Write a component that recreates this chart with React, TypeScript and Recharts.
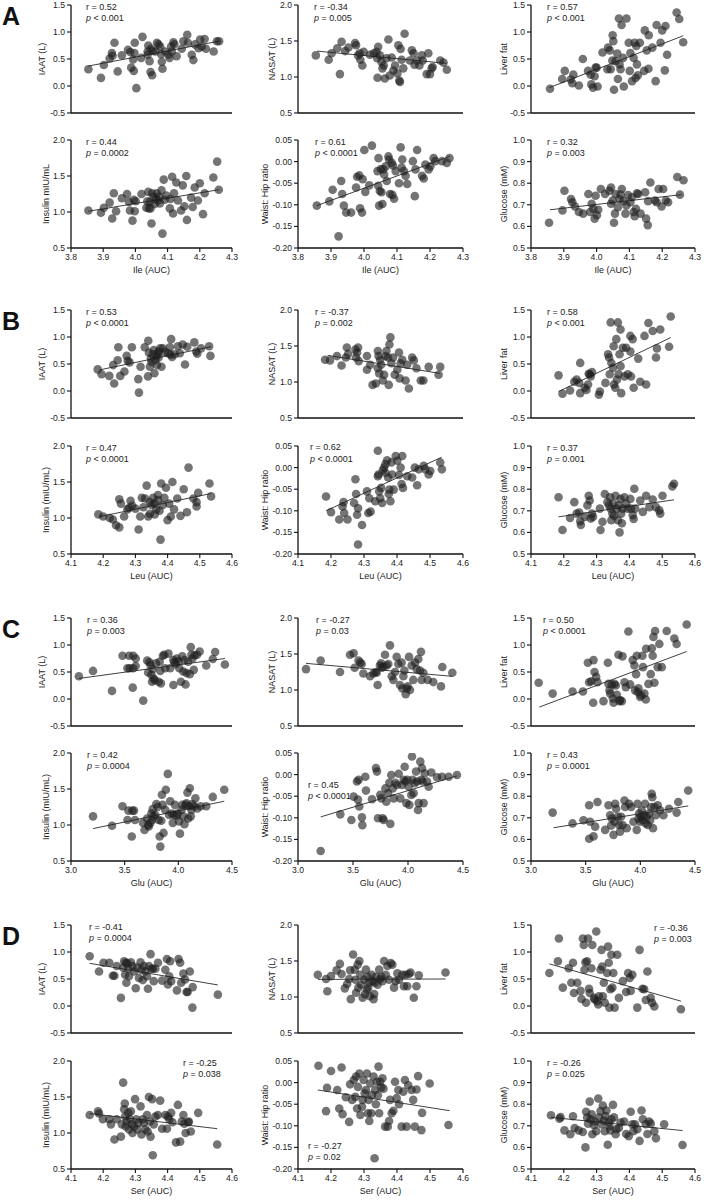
import React from 'react';
import { ScatterChart, Scatter, XAxis, YAxis, ReferenceLine } from 'recharts';

type P = [number, number];

// ---------- Panel A : Ile (AUC) ----------
const ileIaat: P[] = [[3.854,0.31],[3.893,0.15],[3.902,0.39],[3.935,0.80],[3.927,0.61],[3.929,0.56],[3.92,0.51],[3.945,0.27],[3.958,0.57],[3.977,0.67],[3.984,0.63],[3.987,0.34],[3.993,0.49],[3.997,0.61],[3.998,0.80],[3.995,0.28],[4.003,-0.04],[4.018,0.52],[4.022,0.91],[4.038,0.58],[4.040,0.75],[4.044,0.46],[4.047,0.26],[4.052,0.20],[4.048,0.69],[4.054,0.65],[4.062,0.64],[4.067,0.80],[4.072,0.77],[4.077,0.73],[4.080,0.59],[4.082,0.45],[4.084,0.32],[4.092,0.64],[4.103,0.58],[4.106,0.52],[4.111,0.73],[4.113,0.64],[4.118,0.81],[4.121,0.77],[4.128,0.55],[4.144,0.69],[4.149,0.83],[4.161,0.95],[4.163,0.80],[4.175,0.58],[4.180,0.48],[4.185,0.77],[4.196,0.70],[4.201,0.86],[4.206,0.73],[4.215,0.87],[4.219,0.69],[4.243,0.64],[4.253,0.83],[4.260,0.83],[4.038,0.64]];
const ileIaatFit: P[] = [[3.854,0.37],[4.26,0.83]];
const ileNasat: P[] = [[3.854,1.30],[3.893,1.24],[3.902,1.33],[3.919,1.40],[3.932,1.49],[3.927,1.04],[3.943,1.36],[3.953,1.41],[3.973,1.47],[3.976,1.44],[3.982,1.30],[3.987,1.33],[3.989,1.24],[3.995,1.16],[3.999,1.35],[4.018,1.31],[4.030,1.33],[4.038,1.35],[4.043,1.42],[4.041,0.99],[4.040,1.26],[4.048,1.30],[4.053,1.21],[4.056,1.12],[4.060,1.16],[4.063,0.98],[4.068,1.26],[4.074,1.52],[4.078,1.02],[4.084,1.27],[4.089,1.09],[4.094,1.16],[4.101,1.05],[4.104,1.44],[4.107,0.95],[4.109,0.93],[4.111,1.39],[4.114,1.24],[4.119,1.12],[4.123,1.60],[4.139,1.23],[4.145,1.37],[4.150,1.33],[4.153,1.17],[4.160,1.23],[4.168,1.16],[4.175,1.30],[4.178,1.23],[4.190,1.04],[4.195,1.33],[4.200,1.04],[4.205,1.12],[4.208,1.14],[4.231,1.23],[4.241,1.20],[4.251,1.10]];
const ileNasatFit: P[] = [[3.858,1.36],[4.25,1.19]];
const ileLiver: P[] = [[3.858,-0.05],[3.895,0.13],[3.903,0.28],[3.921,0.12],[3.929,0.21],[3.926,0.05],[3.946,0.01],[3.958,0.50],[3.974,0.28],[3.982,0.21],[3.984,0.03],[3.989,-0.03],[3.994,0.18],[3.997,0.34],[4.0,0.34],[4.003,-0.01],[4.018,0.62],[4.033,0.31],[4.035,0.71],[4.04,0.66],[4.043,0.31],[4.048,0.47],[4.049,0.94],[4.051,0.83],[4.053,-0.07],[4.058,0.46],[4.063,0.60],[4.065,0.13],[4.068,1.25],[4.07,0.40],[4.073,0.31],[4.076,1.13],[4.081,0.52],[4.083,-0.01],[4.091,1.25],[4.098,0.80],[4.101,0.28],[4.103,0.61],[4.108,0.09],[4.113,0.52],[4.116,0.80],[4.119,0.15],[4.121,0.74],[4.123,0.40],[4.126,0.20],[4.132,0.80],[4.145,0.28],[4.147,1.03],[4.153,0.66],[4.158,0.32],[4.159,0.94],[4.170,0.71],[4.180,0.09],[4.183,1.13],[4.195,0.80],[4.2,1.03],[4.21,1.11],[4.208,0.29],[4.215,0.58],[4.244,1.36],[4.252,1.24],[4.264,0.81]];
const ileLiverFit: P[] = [[3.856,-0.03],[4.264,0.93]];
const ileInsulin: P[] = [[3.854,1.02],[3.893,0.99],[3.902,1.06],[3.92,1.13],[3.928,0.91],[3.933,1.26],[3.94,1.01],[3.958,1.19],[3.974,1.25],[3.98,1.14],[3.983,1.02],[3.991,0.88],[3.995,1.17],[3.998,1.01],[4.001,1.15],[4.019,1.25],[4.034,1.06],[4.037,1.15],[4.04,1.28],[4.042,1.05],[4.045,1.14],[4.047,1.05],[4.05,0.84],[4.052,1.26],[4.057,1.21],[4.06,1.11],[4.064,1.18],[4.066,1.26],[4.071,1.16],[4.074,1.21],[4.076,1.12],[4.081,1.30],[4.084,0.70],[4.088,1.45],[4.091,1.17],[4.096,1.23],[4.107,1.05],[4.109,1.18],[4.114,1.49],[4.117,0.98],[4.120,1.26],[4.127,1.41],[4.132,1.16],[4.142,1.02],[4.147,1.37],[4.152,1.08],[4.158,1.50],[4.16,0.89],[4.173,1.20],[4.178,1.07],[4.184,1.34],[4.194,1.16],[4.2,1.40],[4.210,0.97],[4.215,1.26],[4.242,1.48],[4.254,1.70],[4.259,1.31]];
const ileInsulinFit: P[] = [[3.854,1.01],[4.26,1.31]];
const ileWhr: P[] = [[3.857,-0.102],[3.895,-0.092],[3.905,-0.065],[3.931,-0.045],[3.934,-0.075],[3.939,-0.102],[3.946,-0.118],[3.961,-0.118],[3.923,-0.173],[3.976,-0.060],[3.979,-0.035],[3.986,-0.032],[3.988,-0.108],[3.994,-0.118],[3.996,-0.041],[4.001,0.027],[4.004,-0.070],[4.016,-0.055],[4.024,0.037],[4.041,-0.022],[4.043,-0.056],[4.044,0.008],[4.046,-0.102],[4.048,-0.068],[4.051,-0.017],[4.053,-0.071],[4.056,-0.098],[4.058,-0.018],[4.061,-0.030],[4.066,-0.011],[4.069,-0.045],[4.074,0.012],[4.076,0.005],[4.079,-0.075],[4.084,-0.003],[4.086,-0.077],[4.088,-0.009],[4.091,-0.086],[4.096,-0.022],[4.106,-0.050],[4.111,0.033],[4.114,-0.014],[4.116,0.005],[4.121,-0.022],[4.126,-0.033],[4.131,-0.052],[4.148,0.001],[4.154,-0.080],[4.156,-0.018],[4.161,0.027],[4.176,-0.033],[4.181,-0.039],[4.186,-0.007],[4.196,-0.018],[4.201,-0.011],[4.211,0.008],[4.216,0.001],[4.236,0.001],[4.251,-0.003],[4.259,0.008]];
const ileWhrFit: P[] = [[3.857,-0.102],[4.26,0.012]];
const ileGlucose: P[] = [[3.855,0.617],[3.896,0.674],[3.902,0.765],[3.922,0.727],[3.926,0.712],[3.934,0.692],[3.946,0.667],[3.959,0.659],[3.975,0.75],[3.98,0.667],[3.985,0.705],[3.990,0.682],[3.994,0.636],[3.997,0.742],[4.001,0.652],[4.005,0.677],[4.013,0.773],[4.026,0.75],[4.039,0.765],[4.044,0.780],[4.044,0.705],[4.049,0.720],[4.053,0.617],[4.056,0.659],[4.058,0.75],[4.065,0.689],[4.07,0.727],[4.073,0.747],[4.077,0.773],[4.082,0.717],[4.088,0.659],[4.091,0.697],[4.096,0.745],[4.103,0.712],[4.108,0.735],[4.113,0.667],[4.116,0.647],[4.12,0.682],[4.123,0.753],[4.127,0.75],[4.134,0.659],[4.148,0.758],[4.151,0.636],[4.156,0.606],[4.157,0.717],[4.164,0.803],[4.178,0.720],[4.183,0.712],[4.189,0.773],[4.198,0.692],[4.203,0.773],[4.211,0.72],[4.218,0.712],[4.246,0.829],[4.254,0.747],[4.265,0.814]];
const ileGlucoseFit: P[] = [[3.858,0.677],[4.259,0.747]];

// ---------- Panel B : Leu (AUC) ----------
const leuIaat: P[] = [[4.183,0.40],[4.195,0.31],[4.219,0.28],[4.234,0.14],[4.231,0.48],[4.245,0.57],[4.247,0.81],[4.253,0.28],[4.266,0.36],[4.273,0.65],[4.276,0.56],[4.282,0.53],[4.289,0.81],[4.309,0.22],[4.311,-0.03],[4.316,0.45],[4.329,0.81],[4.339,0.27],[4.34,0.93],[4.342,0.71],[4.345,0.45],[4.348,0.60],[4.350,0.54],[4.354,0.68],[4.357,0.76],[4.359,0.33],[4.362,0.57],[4.366,0.65],[4.369,0.69],[4.372,0.62],[4.377,0.79],[4.381,0.45],[4.385,0.79],[4.392,0.72],[4.402,0.70],[4.407,0.81],[4.409,0.67],[4.411,0.96],[4.414,0.63],[4.422,0.68],[4.432,0.83],[4.438,0.70],[4.447,0.86],[4.454,0.49],[4.461,0.82],[4.483,0.90],[4.489,0.73],[4.492,0.69],[4.504,0.79],[4.529,0.83],[4.533,0.65],[4.372,0.73],[4.367,0.48]];
const leuIaatFit: P[] = [[4.188,0.39],[4.535,0.82]];
const leuNasat: P[] = [[4.182,1.31],[4.197,1.30],[4.218,1.36],[4.232,1.23],[4.248,1.48],[4.245,1.34],[4.252,1.39],[4.274,1.45],[4.279,1.41],[4.282,1.48],[4.276,1.34],[4.284,1.29],[4.309,1.36],[4.309,1.17],[4.319,1.24],[4.326,0.96],[4.336,0.98],[4.342,1.43],[4.344,1.36],[4.342,1.19],[4.346,1.12],[4.349,1.31],[4.352,1.24],[4.357,1.02],[4.361,1.10],[4.365,1.36],[4.368,1.43],[4.373,1.34],[4.375,0.96],[4.377,1.52],[4.380,1.62],[4.383,1.26],[4.388,1.34],[4.393,1.10],[4.401,1.17],[4.406,1.41],[4.408,1.05],[4.411,1.26],[4.416,1.31],[4.426,1.02],[4.431,1.24],[4.436,0.91],[4.446,1.34],[4.451,1.30],[4.459,1.19],[4.472,1.02],[4.48,1.02],[4.496,1.21],[4.526,1.10],[4.531,1.21]];
const leuNasatFit: P[] = [[4.19,1.37],[4.53,1.12]];
const leuLiver: P[] = [[4.184,0.29],[4.196,-0.05],[4.219,0.01],[4.232,0.17],[4.239,0.21],[4.247,0.15],[4.25,0.52],[4.25,-0.04],[4.264,0.06],[4.269,0.02],[4.274,0.12],[4.276,0.32],[4.279,0.31],[4.282,0.27],[4.286,0.35],[4.307,-0.07],[4.31,-0.01],[4.327,0.15],[4.335,0.68],[4.338,0.62],[4.34,0.31],[4.343,1.27],[4.345,0.52],[4.350,0.43],[4.352,0.83],[4.353,0.12],[4.357,0.06],[4.360,0.96],[4.362,0.21],[4.365,1.27],[4.367,0.31],[4.370,0.68],[4.373,1.14],[4.373,0.46],[4.375,-0.04],[4.380,0.80],[4.385,0.27],[4.390,0.80],[4.395,0.31],[4.403,1.02],[4.403,0.73],[4.405,0.27],[4.41,0.96],[4.413,0.06],[4.427,0.60],[4.433,0.17],[4.446,1.02],[4.451,0.12],[4.458,1.26],[4.471,1.11],[4.481,0.62],[4.484,0.79],[4.494,1.14],[4.521,0.82],[4.526,1.38]];
const leuLiverFit: P[] = [[4.184,-0.01],[4.526,0.99]];
const leuInsulin: P[] = [[4.185,1.05],[4.20,1.02],[4.22,1.00],[4.23,0.98],[4.24,0.90],[4.25,0.87],[4.25,1.26],[4.255,1.20],[4.265,1.02],[4.275,1.12],[4.28,1.14],[4.285,1.24],[4.29,1.17],[4.30,1.13],[4.31,0.84],[4.315,1.02],[4.32,1.28],[4.325,1.15],[4.33,1.27],[4.335,1.45],[4.34,1.02],[4.345,1.06],[4.345,1.22],[4.35,1.18],[4.355,1.28],[4.36,1.20],[4.365,1.12],[4.37,1.32],[4.375,1.10],[4.378,0.70],[4.38,1.48],[4.385,1.18],[4.39,1.28],[4.395,1.42],[4.40,0.97],[4.405,1.20],[4.41,1.02],[4.415,1.50],[4.42,1.12],[4.43,1.27],[4.44,1.03],[4.45,1.40],[4.46,1.08],[4.465,1.70],[4.48,1.27],[4.49,1.16],[4.495,1.35],[4.49,1.22],[4.53,1.48],[4.535,1.30],[4.37,1.25],[4.36,1.05]];
const leuInsulinFit: P[] = [[4.19,1.02],[4.535,1.34]];
const leuWhr: P[] = [[4.185,-0.067],[4.2,-0.103],[4.225,-0.12],[4.235,-0.09],[4.238,-0.08],[4.24,-0.105],[4.25,-0.12],[4.274,-0.027],[4.276,-0.061],[4.27,-0.082],[4.282,-0.094],[4.279,-0.109],[4.282,-0.178],[4.294,-0.133],[4.309,-0.055],[4.313,-0.105],[4.32,-0.102],[4.316,-0.071],[4.334,-0.078],[4.342,-0.020],[4.344,-0.016],[4.342,0.039],[4.346,-0.055],[4.349,-0.071],[4.352,-0.047],[4.355,-0.082],[4.357,-0.006],[4.361,0.000],[4.365,-0.012],[4.365,0.008],[4.37,0.017],[4.373,-0.023],[4.375,-0.061],[4.377,-0.051],[4.380,-0.078],[4.383,0.012],[4.385,-0.016],[4.39,-0.051],[4.396,0.027],[4.401,0.016],[4.406,-0.017],[4.411,0.000],[4.414,-0.038],[4.416,0.027],[4.418,-0.047],[4.431,-0.020],[4.446,-0.023],[4.454,0.000],[4.461,-0.041],[4.466,-0.004],[4.481,0.004],[4.486,-0.004],[4.496,-0.016],[4.501,-0.008],[4.531,0.012],[4.536,-0.004]];
const leuWhrFit: P[] = [[4.185,-0.100],[4.535,0.024]];
const leuGlucose: P[] = [[4.184,0.763],[4.196,0.611],[4.219,0.667],[4.232,0.740],[4.239,0.687],[4.247,0.692],[4.25,0.652],[4.252,0.634],[4.264,0.672],[4.272,0.725],[4.276,0.770],[4.279,0.748],[4.282,0.664],[4.286,0.687],[4.289,0.672],[4.31,0.710],[4.312,0.611],[4.318,0.649],[4.325,0.778],[4.333,0.740],[4.338,0.725],[4.341,0.763],[4.343,0.710],[4.345,0.657],[4.348,0.687],[4.351,0.733],[4.353,0.677],[4.358,0.770],[4.361,0.710],[4.365,0.657],[4.367,0.725],[4.37,0.6],[4.373,0.755],[4.375,0.687],[4.377,0.642],[4.38,0.710],[4.385,0.763],[4.39,0.733],[4.395,0.710],[4.403,0.755],[4.405,0.710],[4.41,0.680],[4.413,0.662],[4.415,0.802],[4.418,0.710],[4.433,0.748],[4.441,0.695],[4.451,0.770],[4.461,0.717],[4.471,0.752],[4.481,0.717],[4.491,0.702],[4.494,0.687],[4.501,0.770],[4.531,0.813],[4.536,0.825]];
const leuGlucoseFit: P[] = [[4.184,0.672],[4.536,0.751]];

// ---------- Panel C : Glu (AUC) ----------
const gluIaat: P[] = [[3.073,0.42],[3.205,0.52],[3.382,0.15],[3.48,0.80],[3.526,0.57],[3.541,0.80],[3.547,0.57],[3.58,0.80],[3.578,0.57],[3.575,0.21],[3.603,0.75],[3.603,0.61],[3.673,-0.03],[3.71,0.71],[3.719,0.49],[3.731,0.68],[3.74,0.63],[3.749,0.45],[3.755,0.32],[3.761,0.55],[3.77,0.38],[3.78,0.35],[3.792,0.66],[3.816,0.32],[3.826,0.69],[3.832,0.52],[3.838,0.29],[3.856,0.80],[3.869,0.82],[3.878,0.57],[3.908,0.84],[3.924,0.57],[3.954,0.26],[3.954,0.72],[3.963,0.68],[3.976,0.65],[3.985,0.75],[4.0,0.70],[4.009,0.57],[4.024,0.32],[4.037,0.79],[4.046,0.51],[4.057,0.72],[4.067,0.27],[4.076,0.48],[4.092,0.69],[4.107,0.46],[4.116,0.96],[4.122,0.82],[4.131,0.75],[4.144,0.54],[4.153,0.81],[4.174,0.82],[4.199,0.88],[4.26,0.62],[4.321,0.74],[4.343,0.87],[4.434,0.64]];
const gluIaatFit: P[] = [[3.073,0.38],[4.434,0.75]];
const gluNasat: P[] = [[3.073,1.29],[3.206,1.41],[3.382,1.25],[3.473,1.49],[3.506,1.51],[3.515,1.31],[3.55,1.41],[3.566,1.38],[3.579,1.36],[3.594,1.23],[3.655,1.19],[3.685,1.23],[3.706,1.25],[3.715,1.24],[3.724,1.07],[3.745,1.34],[3.755,1.37],[3.761,1.31],[3.776,1.32],[3.791,1.49],[3.806,1.34],[3.821,1.36],[3.836,1.62],[3.852,1.19],[3.867,1.14],[3.882,1.25],[3.897,1.46],[3.912,1.36],[3.927,1.07],[3.942,1.38],[3.948,1.02],[3.958,1.19],[3.967,1.27],[3.979,0.94],[3.988,1.02],[3.997,1.05],[4.009,1.46],[4.018,1.0],[4.033,1.34],[4.048,1.14],[4.064,1.38],[4.079,1.29],[4.094,1.43],[4.109,1.27],[4.118,1.53],[4.124,1.14],[4.139,1.24],[4.179,1.14],[4.230,1.11],[4.30,1.05],[4.312,1.32],[4.403,1.24]];
const gluNasatFit: P[] = [[3.073,1.37],[4.40,1.19]];
const gluLiver: P[] = [[3.07,0.30],[3.198,0.10],[3.38,0.14],[3.475,0.14],[3.52,0.67],[3.532,0.31],[3.551,0.33],[3.569,-0.07],[3.572,0.72],[3.581,0.50],[3.596,0.41],[3.608,0.31],[3.663,-0.04],[3.703,0.67],[3.709,0.28],[3.718,0.16],[3.724,0.10],[3.739,0.27],[3.749,0.01],[3.755,-0.07],[3.764,0.28],[3.776,0.25],[3.785,0.08],[3.800,0.82],[3.809,-0.04],[3.815,-0.02],[3.831,-0.04],[3.837,0.79],[3.855,0.31],[3.867,0.22],[3.891,1.25],[3.907,0.27],[3.93,0.72],[3.946,0.62],[3.952,0.16],[3.961,0.46],[3.967,0.80],[3.976,0.13],[3.983,0.20],[3.998,0.04],[4.007,0.07],[4.019,0.80],[4.025,0.59],[4.037,0.10],[4.05,-0.01],[4.053,0.93],[4.074,0.28],[4.095,0.46],[4.105,0.94],[4.113,0.80],[4.12,1.15],[4.129,0.30],[4.135,1.26],[4.159,0.59],[4.174,1.02],[4.196,0.59],[4.241,1.26],[4.311,1.12],[4.332,1.02],[4.424,1.38]];
const gluLiverFit: P[] = [[3.076,-0.15],[4.424,0.88]];
const gluInsulin: P[] = [[3.205,1.12],[3.382,0.99],[3.48,1.26],[3.526,1.07],[3.535,1.20],[3.566,0.84],[3.572,1.20],[3.587,1.20],[3.596,1.07],[3.67,1.03],[3.685,0.93],[3.709,1.09],[3.719,1.00],[3.725,0.98],[3.74,1.03],[3.749,1.16],[3.755,1.07],[3.761,1.22],[3.77,1.12],[3.786,1.14],[3.795,1.29],[3.807,1.25],[3.816,1.07],[3.826,0.84],[3.832,0.70],[3.841,1.06],[3.847,1.42],[3.853,1.28],[3.862,0.89],[3.878,1.21],[3.884,1.49],[3.902,1.71],[3.914,1.14],[3.924,1.33],[3.939,1.16],[3.948,1.03],[3.96,1.14],[3.969,1.28],[3.985,1.13],[3.994,1.16],[4.006,1.05],[4.015,0.88],[4.031,1.21],[4.037,1.28],[4.046,1.12],[4.057,1.01],[4.067,1.28],[4.076,1.30],[4.085,1.45],[4.092,1.09],[4.10,1.26],[4.107,1.51],[4.116,1.12],[4.122,1.21],[4.131,1.29],[4.147,1.26],[4.159,1.37],[4.177,1.23],[4.208,1.26],[4.26,1.26],[4.321,1.39],[4.428,1.49]];
const gluInsulinFit: P[] = [[3.205,0.95],[4.428,1.33]];
const gluWhr: P[] = [[3.206,-0.177],[3.385,-0.092],[3.485,-0.105],[3.506,-0.051],[3.536,-0.016],[3.551,-0.012],[3.545,-0.058],[3.557,-0.074],[3.581,-0.099],[3.585,-0.117],[3.612,-0.005],[3.618,-0.037],[3.673,-0.057],[3.709,0.015],[3.718,0.007],[3.727,-0.101],[3.748,-0.047],[3.757,-0.055],[3.77,-0.101],[3.779,-0.105],[3.794,-0.032],[3.803,-0.063],[3.818,-0.043],[3.83,-0.019],[3.839,-0.114],[3.848,-0.001],[3.861,-0.032],[3.87,-0.055],[3.885,-0.019],[3.9,-0.024],[3.915,0.002],[3.93,-0.055],[3.945,-0.024],[3.961,-0.012],[3.97,0.018],[3.976,-0.016],[3.985,-0.066],[3.994,-0.012],[4.006,-0.028],[4.012,-0.070],[4.03,-0.047],[4.036,0.042],[4.042,-0.012],[4.051,-0.043],[4.06,-0.020],[4.073,0.007],[4.082,-0.016],[4.091,-0.082],[4.097,-0.066],[4.112,0.030],[4.121,-0.012],[4.127,0.015],[4.133,-0.016],[4.142,-0.066],[4.152,0.003],[4.173,-0.016],[4.188,-0.028],[4.212,0.005],[4.264,-0.006],[4.309,-0.005],[4.37,-0.005],[4.445,-0.001]];
const gluWhrFit: P[] = [[3.206,-0.098],[4.445,-0.003]];
const gluGlucose: P[] = [[3.198,0.724],[3.38,0.674],[3.48,0.689],[3.532,0.758],[3.532,0.603],[3.541,0.682],[3.572,0.614],[3.587,0.659],[3.608,0.773],[3.678,0.644],[3.709,0.758],[3.724,0.712],[3.733,0.664],[3.739,0.697],[3.755,0.621],[3.764,0.682],[3.77,0.765],[3.779,0.742],[3.794,0.705],[3.806,0.667],[3.815,0.636],[3.824,0.705],[3.837,0.667],[3.855,0.780],[3.861,0.750],[3.876,0.652],[3.897,0.765],[3.916,0.750],[3.937,0.682],[3.967,0.644],[3.974,0.765],[3.983,0.697],[3.989,0.720],[3.998,0.682],[4.007,0.705],[4.013,0.735],[4.022,0.689],[4.034,0.712],[4.043,0.765],[4.05,0.674],[4.059,0.705],[4.068,0.667],[4.08,0.720],[4.089,0.689],[4.098,0.750],[4.104,0.811],[4.11,0.795],[4.116,0.652],[4.129,0.750],[4.141,0.712],[4.159,0.758],[4.18,0.735],[4.211,0.712],[4.262,0.742],[4.332,0.724],[4.347,0.773],[4.438,0.826]];
const gluGlucoseFit: P[] = [[3.207,0.654],[4.438,0.755]];

// ---------- Panel D : Ser (AUC) ----------
const serIaat: P[] = [[4.158,0.92],[4.187,0.64],[4.201,0.80],[4.219,0.80],[4.23,0.56],[4.235,0.56],[4.242,0.74],[4.255,0.15],[4.262,0.71],[4.265,0.83],[4.268,0.58],[4.27,0.80],[4.272,0.43],[4.275,0.79],[4.278,0.69],[4.28,0.55],[4.286,0.81],[4.291,0.74],[4.296,0.64],[4.301,0.33],[4.306,0.71],[4.311,0.52],[4.316,0.81],[4.319,0.67],[4.323,0.48],[4.326,0.74],[4.331,0.64],[4.336,0.55],[4.339,0.32],[4.342,0.74],[4.347,0.96],[4.35,0.69],[4.354,0.69],[4.357,0.46],[4.362,0.69],[4.37,0.80],[4.383,0.47],[4.393,0.67],[4.398,0.87],[4.401,0.40],[4.405,0.55],[4.408,0.83],[4.411,0.46],[4.429,0.29],[4.434,0.87],[4.439,0.80],[4.442,0.43],[4.449,0.60],[4.454,0.49],[4.459,0.26],[4.462,0.26],[4.469,0.64],[4.477,-0.03],[4.478,0.35],[4.556,0.21]];
const serIaatFit: P[] = [[4.158,0.79],[4.556,0.39]];
const serNasat: P[] = [[4.160,1.31],[4.185,1.25],[4.189,1.08],[4.2,1.29],[4.217,1.37],[4.227,1.46],[4.232,1.32],[4.242,1.12],[4.249,1.18],[4.255,1.25],[4.258,1.37],[4.26,0.97],[4.267,1.59],[4.272,1.38],[4.274,1.24],[4.276,1.06],[4.281,1.45],[4.283,1.13],[4.286,1.50],[4.289,1.31],[4.291,1.17],[4.296,0.99],[4.301,1.24],[4.303,1.04],[4.306,1.38],[4.309,1.10],[4.311,1.28],[4.313,1.13],[4.316,1.20],[4.318,1.01],[4.323,1.31],[4.326,1.22],[4.329,0.97],[4.331,1.04],[4.333,1.20],[4.336,1.28],[4.341,1.17],[4.346,1.38],[4.349,1.25],[4.353,1.28],[4.356,1.22],[4.361,1.50],[4.366,1.31],[4.371,1.43],[4.376,1.24],[4.381,1.47],[4.386,1.45],[4.391,1.13],[4.396,1.22],[4.401,1.33],[4.406,1.24],[4.416,1.31],[4.421,1.15],[4.426,1.31],[4.431,1.15],[4.436,1.32],[4.441,1.34],[4.451,0.99],[4.459,1.15],[4.466,1.30],[4.547,1.34]];
const serNasatFit: P[] = [[4.16,1.245],[4.547,1.25]];
const serLiver: P[] = [[4.156,0.61],[4.182,0.83],[4.185,1.25],[4.197,0.34],[4.215,0.70],[4.223,0.43],[4.228,0.80],[4.231,0.24],[4.241,0.43],[4.251,0.28],[4.254,0.13],[4.258,1.25],[4.261,1.13],[4.263,0.67],[4.266,0.81],[4.268,0.06],[4.271,0.83],[4.274,1.25],[4.277,0.32],[4.279,0.24],[4.284,0.70],[4.287,1.13],[4.292,0.15],[4.294,0.12],[4.299,1.38],[4.302,0.09],[4.305,0.03],[4.307,0.18],[4.312,0.67],[4.315,1.04],[4.317,0.73],[4.319,0.18],[4.322,0.43],[4.325,0.06],[4.332,0.61],[4.335,1.10],[4.337,0.80],[4.339,-0.03],[4.342,0.31],[4.345,0.95],[4.348,0.34],[4.351,0.61],[4.355,-0.03],[4.363,0.95],[4.368,0.15],[4.38,0.46],[4.39,0.26],[4.396,0.61],[4.401,0.52],[4.404,0.28],[4.409,0.58],[4.424,-0.03],[4.431,1.04],[4.440,0.32],[4.445,0.31],[4.45,0.11],[4.455,0.64],[4.465,0.15],[4.469,0.06],[4.476,-0.01],[4.557,-0.06]];
const serLiverFit: P[] = [[4.156,0.78],[4.557,0.09]];
const serInsulin: P[] = [[4.158,1.25],[4.184,1.30],[4.187,1.27],[4.199,1.19],[4.219,1.19],[4.224,1.12],[4.235,0.91],[4.242,1.19],[4.258,1.12],[4.255,0.95],[4.262,1.70],[4.267,1.41],[4.265,1.33],[4.268,1.23],[4.27,1.09],[4.273,1.16],[4.278,1.28],[4.28,1.05],[4.283,1.19],[4.286,1.30],[4.289,1.12],[4.291,1.00],[4.296,1.09],[4.299,1.47],[4.303,1.19],[4.306,1.05],[4.309,1.14],[4.316,1.37],[4.319,0.98],[4.323,1.19],[4.326,1.14],[4.331,1.05],[4.336,1.25],[4.338,1.02],[4.342,1.50],[4.345,1.16],[4.347,0.95],[4.352,1.47],[4.354,0.69],[4.357,1.12],[4.362,1.23],[4.37,1.25],[4.377,1.45],[4.383,1.06],[4.393,1.25],[4.398,1.06],[4.401,1.23],[4.405,1.19],[4.411,1.28],[4.415,1.15],[4.426,0.87],[4.432,1.39],[4.439,0.88],[4.444,1.16],[4.449,1.25],[4.452,1.13],[4.456,1.00],[4.464,1.15],[4.466,1.16],[4.472,1.02],[4.495,1.28],[4.554,0.84]];
const serInsulinFit: P[] = [[4.158,1.27],[4.554,1.06]];
const serWhr: P[] = [[4.162,0.039],[4.2,0.027],[4.232,0.035],[4.185,-0.066],[4.188,-0.012],[4.219,-0.017],[4.225,-0.060],[4.235,-0.073],[4.245,-0.034],[4.255,-0.091],[4.258,-0.004],[4.264,-0.040],[4.269,0.006],[4.274,-0.033],[4.276,0.014],[4.279,-0.060],[4.282,-0.010],[4.286,0.021],[4.289,-0.075],[4.294,-0.056],[4.296,-0.040],[4.299,0.006],[4.302,-0.025],[4.306,-0.017],[4.309,0.021],[4.312,-0.071],[4.314,-0.040],[4.316,-0.089],[4.319,-0.002],[4.322,-0.071],[4.324,-0.029],[4.329,0.014],[4.332,-0.175],[4.334,-0.017],[4.336,-0.050],[4.339,0.002],[4.342,-0.029],[4.344,0.037],[4.346,-0.071],[4.349,0.002],[4.352,-0.011],[4.356,0.010],[4.359,-0.014],[4.364,-0.102],[4.372,-0.102],[4.376,-0.089],[4.379,-0.040],[4.384,-0.071],[4.389,-0.065],[4.394,0.002],[4.399,-0.036],[4.404,-0.017],[4.406,-0.050],[4.414,-0.102],[4.419,-0.021],[4.424,0.006],[4.429,-0.102],[4.434,-0.006],[4.444,-0.017],[4.449,-0.040],[4.454,-0.102],[4.459,-0.016],[4.464,0.015],[4.474,-0.110],[4.476,-0.070],[4.499,-0.002],[4.556,-0.098]];
const serWhrFit: P[] = [[4.16,-0.017],[4.559,-0.065]];
const serGlucose: P[] = [[4.161,0.749],[4.187,0.733],[4.19,0.740],[4.202,0.679],[4.22,0.661],[4.228,0.744],[4.233,0.690],[4.245,0.679],[4.258,0.671],[4.266,0.60],[4.268,0.765],[4.271,0.738],[4.274,0.710],[4.279,0.812],[4.282,0.730],[4.285,0.753],[4.287,0.661],[4.292,0.703],[4.295,0.720],[4.299,0.675],[4.305,0.826],[4.307,0.738],[4.312,0.768],[4.315,0.707],[4.319,0.794],[4.322,0.724],[4.325,0.675],[4.327,0.745],[4.33,0.771],[4.334,0.612],[4.337,0.715],[4.339,0.698],[4.342,0.679],[4.345,0.730],[4.35,0.797],[4.353,0.739],[4.358,0.661],[4.36,0.684],[4.368,0.690],[4.373,0.715],[4.384,0.720],[4.39,0.662],[4.398,0.652],[4.404,0.765],[4.409,0.707],[4.412,0.675],[4.417,0.707],[4.424,0.684],[4.431,0.630],[4.437,0.771],[4.441,0.730],[4.45,0.707],[4.455,0.662],[4.46,0.720],[4.465,0.710],[4.476,0.675],[4.481,0.642],[4.506,0.707],[4.562,0.611]];
const serGlucoseFit: P[] = [[4.161,0.739],[4.562,0.678]];

// ---------- axis tick values ----------
const ticksIle = [3.8, 3.9, 4.0, 4.1, 4.2, 4.3];
const ticksLeu = [4.1, 4.2, 4.3, 4.4, 4.5, 4.6];
const ticksGlu = [3.0, 3.5, 4.0, 4.5];
const ticksSer = [4.1, 4.2, 4.3, 4.4, 4.5, 4.6];
const ticksFat = [-0.5, 0.0, 0.5, 1.0, 1.5];
const ticksNasat = [0.5, 1.0, 1.5, 2.0];
const ticksInsulin = [0.5, 1.0, 1.5, 2.0];
const ticksWhr = [-0.2, -0.15, -0.1, -0.05, 0.0, 0.05];
const ticksGlucose = [0.5, 0.6, 0.7, 0.8, 0.9, 1.0];

const panelLetters = ['A', 'B', 'C', 'D'];
const xLabels = ['Ile (AUC)', 'Leu (AUC)', 'Glu (AUC)', 'Ser (AUC)'];
const xTickSets = [ticksIle, ticksLeu, ticksGlu, ticksSer];

const stats: string[][][] = [
  [['r = 0.52', '< 0.001'], ['r = -0.34', '= 0.005'], ['r = 0.57', '< 0.001'], ['r = 0.44', '= 0.0002'], ['r = 0.61', '< 0.0001'], ['r = 0.32', '= 0.003']],
  [['r = 0.53', '< 0.0001'], ['r = -0.37', '= 0.002'], ['r = 0.58', '< 0.001'], ['r = 0.47', '< 0.0001'], ['r = 0.62', '< 0.0001'], ['r = 0.37', '= 0.001']],
  [['r = 0.36', '= 0.003'], ['r = -0.27', '= 0.03'], ['r = 0.50', '< 0.0001'], ['r = 0.42', '= 0.0004'], ['r = 0.45', '< 0.0001'], ['r = 0.43', '= 0.0001']],
  [['r = -0.41', '= 0.0004'], [], ['r = -0.36', '= 0.003'], ['r = -0.25', '= 0.038'], ['r = -0.27', '= 0.02'], ['r = -0.26', '= 0.025']],
];

const panelData: P[][][] = [
  [ileIaat, ileNasat, ileLiver, ileInsulin, ileWhr, ileGlucose],
  [leuIaat, leuNasat, leuLiver, leuInsulin, leuWhr, leuGlucose],
  [gluIaat, gluNasat, gluLiver, gluInsulin, gluWhr, gluGlucose],
  [serIaat, serNasat, serLiver, serInsulin, serWhr, serGlucose],
];
const panelFits: P[][][] = [
  [ileIaatFit, ileNasatFit, ileLiverFit, ileInsulinFit, ileWhrFit, ileGlucoseFit],
  [leuIaatFit, leuNasatFit, leuLiverFit, leuInsulinFit, leuWhrFit, leuGlucoseFit],
  [gluIaatFit, gluNasatFit, gluLiverFit, gluInsulinFit, gluWhrFit, gluGlucoseFit],
  [serIaatFit, serNasatFit, serLiverFit, serInsulinFit, serWhrFit, serGlucoseFit],
];

// ---------- layout ----------
const FONT = '"Liberation Sans", Arial, Helvetica, sans-serif';
const colLeft = [71, 298, 531];
const colWidth = [161, 165, 164];
const rowTops = [[5, 140], [310, 446], [618, 753], [925, 1061]];
const PLOT_H = 108;
const YAXIS_W = 40;
const M_TOP = 5;

type YSpec = { domain: [number, number]; ticks: number[]; digits: number; off: number };
const ySpecs: YSpec[] = [
  { domain: [-0.5, 1.5], ticks: ticksFat, digits: 1, off: 29 },
  { domain: [0.5, 2.0], ticks: ticksNasat, digits: 1, off: 26 },
  { domain: [-0.5, 1.5], ticks: ticksFat, digits: 1, off: 27 },
  { domain: [0.5, 2.0], ticks: ticksInsulin, digits: 1, off: 25 },
  { domain: [-0.2, 0.05], ticks: ticksWhr, digits: 2, off: 33 },
  { domain: [0.5, 1.0], ticks: ticksGlucose, digits: 1, off: 27 },
];
const yLabelsDefault = ['IAAT (L)', 'NASAT (L)', 'Liver fat', 'Insulin (mIU/mL)', 'Waist: Hip ratio', 'Glucose (mM)'];

// stat text offsets [dx, line1 centre dy] relative to plot area
const statPos: number[][][] = [
  [[15, 2.5], [16, 2.5], [16, 2.5], [15, 2.5], [17, 2.5], [16, 2.5]],
  [[15, 2.5], [17, 2.5], [16, 2.5], [15, 2.5], [12, 1.8], [16, 2.5]],
  [[16, 2.5], [18, 2.5], [12, 2.5], [16, 2.5], [10, 32.3], [16, 2.5]],
  [[18, 2.5], [16, 2.5], [123, 3.3], [112, 2.5], [10, 85.7], [16, 2.5]],
];

const Dot = (props: any) => {
  const { cx, cy } = props;
  if (cx == null || cy == null) return <g />;
  return <circle cx={cx} cy={cy} r={4.3} fill="#1e1e1e" fillOpacity={0.62} />;
};

const axisLine = { stroke: '#111', strokeWidth: 1.3 };
const tickLine = { stroke: '#111', strokeWidth: 1.1 };
const tickStyle = { fontSize: 8.6, fill: '#222', fontFamily: FONT };

function SubPlot(props: {
  left: number; top: number; w: number; pts: P[]; fit: P[];
  xDomain: [number, number]; xTicks: number[]; showX: boolean; xLabel: string;
  y: YSpec; yLabel: string; stat: string[]; statXY: number[];
}) {
  const { left, top, w, pts, fit, xDomain, xTicks, showX, xLabel, y, yLabel, stat, statXY } = props;
  const data = pts.map(([a, b]) => ({ x: a, y: b }));
  const chartW = YAXIS_W + w + 8;
  const chartH = M_TOP + PLOT_H + 30;
  return (
    <>
      <div style={{ position: 'absolute', left: left - YAXIS_W, top: top - M_TOP }}>
        <ScatterChart width={chartW} height={chartH} margin={{ top: M_TOP, right: 8, bottom: 0, left: 0 }}>
          <XAxis
            type="number"
            dataKey="x"
            domain={xDomain}
            ticks={xTicks}
            interval={0}
            allowDataOverflow
            height={30}
            axisLine={axisLine}
            tickLine={tickLine}
            tickSize={4}
            tickMargin={2}
            tick={showX ? tickStyle : false}
            tickFormatter={(v: number) => v.toFixed(1)}
          />
          <YAxis
            type="number"
            dataKey="y"
            domain={y.domain}
            ticks={y.ticks}
            interval={0}
            allowDataOverflow
            width={YAXIS_W}
            axisLine={axisLine}
            tickLine={tickLine}
            tickSize={4}
            tickMargin={2}
            tick={tickStyle}
            tickFormatter={(v: number) => v.toFixed(y.digits)}
          />
          <Scatter data={data} shape={Dot} isAnimationActive={false} />
          <ReferenceLine
            segment={[{ x: fit[0][0], y: fit[0][1] }, { x: fit[1][0], y: fit[1][1] }]}
            stroke="#2a2a2a"
            strokeWidth={0.9}
            ifOverflow="visible"
          />
        </ScatterChart>
      </div>
      <div
        style={{
          position: 'absolute', left: left - y.off, top: top + PLOT_H / 2,
          transform: 'translate(-50%, -50%) rotate(-90deg)', whiteSpace: 'nowrap',
          fontSize: 9, fontFamily: FONT, color: '#222', lineHeight: '10px',
        }}
      >
        {yLabel}
      </div>
      {showX && (
        <div
          style={{
            position: 'absolute', left: left + w / 2, top: top + PLOT_H + 22,
            transform: 'translate(-50%, -50%)', whiteSpace: 'nowrap',
            fontSize: 9, fontFamily: FONT, color: '#222', lineHeight: '10px',
          }}
        >
          {xLabel}
        </div>
      )}
      {stat.length > 0 && (
        <div
          style={{
            position: 'absolute', left: left + statXY[0], top: top + statXY[1] - 5.75,
            fontSize: 9, fontFamily: FONT, color: '#222', lineHeight: '11.5px', whiteSpace: 'nowrap',
          }}
        >
          <div>{stat[0]}</div>
          <div><i>p</i> {stat[1]}</div>
        </div>
      )}
    </>
  );
}

export default function App() {
  const items: React.ReactNode[] = [];
  panelLetters.forEach((letter, pi) => {
    items.push(
      <div
        key={'L' + pi}
        style={{
          position: 'absolute', left: 2, top: rowTops[pi][0] - 1.5,
          fontSize: 25, fontWeight: 'bold', fontFamily: FONT, lineHeight: '25px', color: '#111',
        }}
      >
        {letter}
      </div>
    );
    for (let k = 0; k < 6; k++) {
      const row = Math.floor(k / 3);
      const col = k % 3;
      const xt = xTickSets[pi];
      let yLabel = yLabelsDefault[k];
      if (pi === 0 && k === 3) yLabel = 'Insulin mIU/mL';
      items.push(
        <SubPlot
          key={pi + '-' + k}
          left={colLeft[col]}
          top={rowTops[pi][row]}
          w={colWidth[col]}
          pts={panelData[pi][k]}
          fit={panelFits[pi][k]}
          xDomain={[xt[0], xt[xt.length - 1]]}
          xTicks={xt}
          showX={row === 1}
          xLabel={xLabels[pi]}
          y={ySpecs[k]}
          yLabel={yLabel}
          stat={stats[pi][k]}
          statXY={statPos[pi][k]}
        />
      );
    }
  });
  return (
    <div style={{ position: 'absolute', left: 0, top: 0, width: 705, height: 1201, background: '#fff', overflow: 'hidden' }}>
      {items}
    </div>
  );
}
